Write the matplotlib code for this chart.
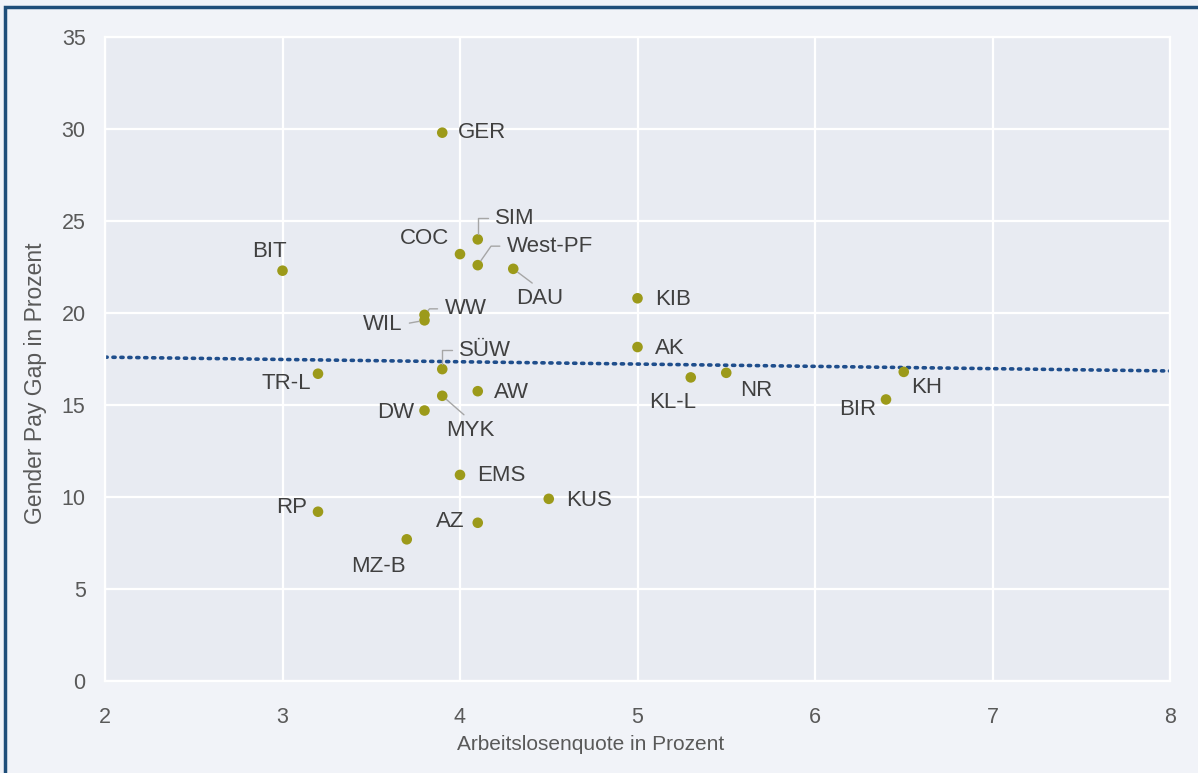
import numpy as np
import matplotlib.pyplot as plt
from matplotlib.patches import Rectangle

plt.rcParams['font.family'] = ['Liberation Sans', 'DejaVu Sans']

# Kreise: Arbeitslosenquote (x) und Gender Pay Gap (y)
kreise = ['GER', 'SIM', 'COC', 'West-PF', 'DAU', 'BIT', 'KIB', 'WW', 'WIL', 'AK',
          'SÜW', 'TR-L', 'KH', 'NR', 'KL-L', 'AW', 'MYK', 'BIR', 'DW', 'EMS',
          'KUS', 'RP', 'AZ', 'MZ-B']
arbeitslosenquote = [3.9, 4.1, 4.0, 4.1, 4.3, 3.0, 5.0, 3.8, 3.8, 5.0,
                     3.9, 3.2, 6.5, 5.5, 5.3, 4.1, 3.9, 6.4, 3.8, 4.0,
                     4.5, 3.2, 4.1, 3.7]
pay_gap = [29.8, 24.0, 23.2, 22.6, 22.4, 22.3, 20.8, 19.9, 19.6, 18.15,
           16.95, 16.7, 16.8, 16.75, 16.5, 15.75, 15.5, 15.3, 14.7, 11.2,
           9.9, 9.2, 8.6, 7.7]

# Trendlinie (Endpunkte bei x=2 und x=8)
trend_x = [2, 8]
trend_y = [17.6, 16.85]

# label offsets in pixels (dx, dy), alignment, optional leader line
label_opts = {
    'GER': ((16, 0), 'left', None),
    'SIM': ((17, 21), 'left', ('angle,angleA=0,angleB=90,rad=0', (0, 0.5))),
    'COC': ((-11, 16), 'right', None),
    'West-PF': ((29, 19), 'left', ('angle,angleA=0,angleB=55,rad=0', (0, 0.5))),
    'DAU': ((26, -30), 'center', ('arc3', (0.5, 1))),
    'BIT': ((-13, 19), 'center', None),
    'KIB': ((18, -1), 'left', None),
    'WW': ((20, 6), 'left', ('angle,angleA=0,angleB=50,rad=0', (0, 0.5))),
    'WIL': ((-22, -4), 'right', ('arc3', (1, 0.5))),
    'AK': ((17, -1), 'left', None),
    'SÜW': ((17, 19), 'left', ('angle,angleA=0,angleB=90,rad=0', (0, 0.5))),
    'TR-L': ((-7, -10), 'right', None),
    'KH': ((7, -16), 'left', None),
    'NR': ((14, -18), 'left', None),
    'KL-L': ((-18, -25), 'center', None),
    'AW': ((16, -1), 'left', None),
    'MYK': ((28, -35), 'center', ('arc3', (0.5, 1))),
    'BIR': ((-10, -10), 'right', None),
    'DW': ((-10, -2), 'right', None),
    'EMS': ((17, -1), 'left', None),
    'KUS': ((17, -2), 'left', None),
    'RP': ((-11, 4), 'right', None),
    'AZ': ((-13, 1), 'right', None),
    'MZ-B': ((-28, -27), 'center', None),
}

fig = plt.figure(figsize=(11.98, 7.73), dpi=100, facecolor='#F1F3F8')
ax = fig.add_axes([105 / 1198, 1 - 681 / 773, 1065 / 1198, 644 / 773])
ax.set_facecolor('#E8EBF2')

ax.set_xlim(2, 8)
ax.set_ylim(0, 35)
ax.set_xticks(np.arange(2, 9, 1))
ax.set_yticks(np.arange(0, 36, 5))
ax.grid(True, color='white', lw=1.6)
ax.set_axisbelow(True)
for s in ax.spines.values():
    s.set_color('white')
    s.set_linewidth(1.6)
ax.tick_params(length=0, labelsize=15.5, colors='#595959')
ax.tick_params(axis='x', pad=19)
ax.tick_params(axis='y', pad=14)

ax.plot(trend_x, trend_y, color='#1F4E8C', lw=2.6, ls=(0, (0.6, 1.6)),
        dash_capstyle='round', zorder=2)
ax.scatter(arbeitslosenquote, pay_gap, s=58, color='#9C9A1A', zorder=3,
           edgecolors='none')

for name, x, y in zip(kreise, arbeitslosenquote, pay_gap):
    (dx, dy), ha, leader = label_opts[name]
    kw = {}
    if leader is not None:
        conn, relpos = leader
        kw['arrowprops'] = dict(arrowstyle='-', color='#A6A6A6', lw=1,
                                shrinkA=3, shrinkB=4, relpos=relpos,
                                connectionstyle=conn)
    ax.annotate(name, xy=(x, y), xytext=(dx, dy), textcoords='offset pixels',
                ha=ha, va='center', fontsize=16, color='#404040', **kw)

ax.set_xlabel('Arbeitslosenquote in Prozent', fontsize=15, color='#595959')
ax.set_ylabel('Gender Pay Gap in Prozent', fontsize=16.5, color='#595959')
# Achsentitel leicht aus der Mitte versetzt wie im Original
ax.xaxis.set_label_coords(0.456, -0.084)
ax.yaxis.set_label_coords(-0.054, 0.463)

# Rahmen nur links und oben sichtbar
fig.patches.append(Rectangle((5 / 1198, -10 / 773), 1210 / 1198, 776 / 773,
                             transform=fig.transFigure, fill=False,
                             edgecolor='#1F4E79', lw=2.5))

fig.savefig('out.png', dpi=100, facecolor=fig.get_facecolor())
